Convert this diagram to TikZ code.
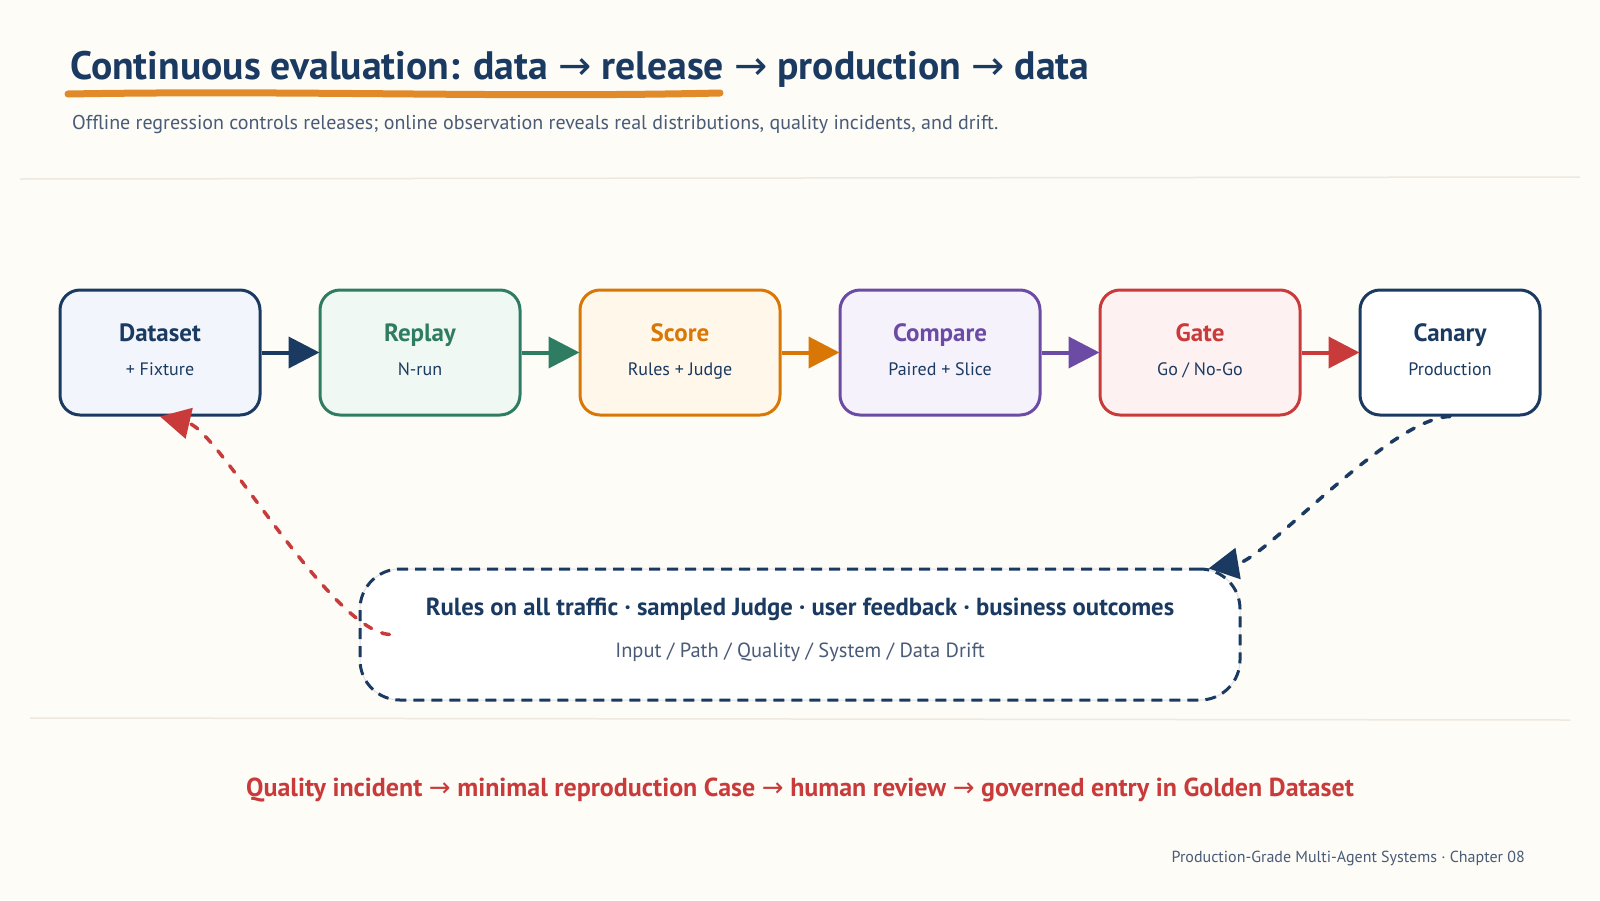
\documentclass[tikz,border=0pt]{standalone}
\usepackage{fontspec}
\setmainfont{PT Sans}
\newfontfamily\arrfont{DejaVu Sans}
\usetikzlibrary{arrows.meta,calc}
\definecolor{bg}{HTML}{FDFCF7}
\definecolor{navy}{HTML}{1B3A61}
\definecolor{grn}{HTML}{2E7D62}
\definecolor{org}{HTML}{D97706}
\definecolor{uline}{HTML}{E08A2A}
\definecolor{pur}{HTML}{6B4BA3}
\definecolor{rd}{HTML}{C93B3B}
\definecolor{gtxt}{HTML}{4A5B78}
\definecolor{sep}{HTML}{EEE8DE}
\definecolor{fds}{HTML}{F2F6FC}
\definecolor{frp}{HTML}{F0F8F4}
\definecolor{fsc}{HTML}{FFF7E9}
\definecolor{fcm}{HTML}{F5F2FC}
\definecolor{fgt}{HTML}{FDF1F1}
\newcommand{\arr}{{\arrfont\mdseries →}}
\tikzset{
  stagebox/.style={rectangle, rounded corners=20pt, line width=3pt, minimum height=125pt, inner sep=0pt},
  btitle/.style={anchor=base, inner sep=0pt, font=\fontsize{25}{29}\selectfont\bfseries},
  bsub/.style={anchor=base, inner sep=0pt, text=navy, font=\fontsize{18}{21}\selectfont},
  flow/.style={line width=4pt, -{Triangle[length=31pt,width=31pt]}, shorten >=-1pt},
  loopline/.style={line width=3.5pt, line cap=round, dash pattern=on 8pt off 11pt, -{Triangle[length=30pt,width=31pt]}},
}
\begin{document}
\begin{tikzpicture}[x=1pt,y=-1pt]
\fill[bg] (0,0) rectangle (1600,900);
\useasboundingbox (0,0) rectangle (1600,900);
% separators
\draw[sep, line width=1.5pt] (20,179) -- (1580,177);
\draw[sep, line width=1.5pt] (30,718) -- (1570,720);
% title
\draw[uline, line width=7pt, line cap=round] (68,94) .. controls (300,90) and (500,98) .. (720,93);
\node[anchor=base west, inner sep=0pt, text=navy, font=\fontsize{39.7}{46}\selectfont\bfseries] (title) at (70,79)
  {Continuous evaluation: data \arr{} release \arr{} production \arr{} data};
\node[anchor=base west, inner sep=0pt, text=gtxt, font=\fontsize{20}{24}\selectfont] (subtitle) at (72,129)
  {Offline regression controls releases; online observation reveals real distributions, quality incidents, and drift.};
% stage boxes
\node[stagebox, draw=navy, fill=fds, minimum width=200pt] (ds) at (160,352.5) {};
\node[stagebox, draw=grn, fill=frp, minimum width=200pt] (rp) at (420,352.5) {};
\node[stagebox, draw=org, fill=fsc, minimum width=200pt] (sc) at (680,352.5) {};
\node[stagebox, draw=pur, fill=fcm, minimum width=200pt] (cm) at (940,352.5) {};
\node[stagebox, draw=rd, fill=fgt, minimum width=200pt] (gt) at (1200,352.5) {};
\node[stagebox, draw=navy, fill=white, minimum width=180pt] (cn) at (1450,352.5) {};
\node[btitle, text=navy] (dsT) at (160,341) {Dataset};
\node[bsub] (dsS) at (160,375) {+ Fixture};
\node[btitle, text=grn] (rpT) at (420,341) {Replay};
\node[bsub] (rpS) at (420,375) {N-run};
\node[btitle, text=org] (scT) at (680,341) {Score};
\node[bsub] (scS) at (680,375) {Rules + Judge};
\node[btitle, text=pur] (cmT) at (940,341) {Compare};
\node[bsub] (cmS) at (940,375) {Paired + Slice};
\node[btitle, text=rd] (gtT) at (1200,341) {Gate};
\node[bsub] (gtS) at (1200,375) {Go / No-Go};
\node[btitle, text=navy] (cnT) at (1450,341) {Canary};
\node[bsub] (cnS) at (1450,375) {Production};
% flow arrows
\draw[flow, navy] (ds.east) -- (rp.west);
\draw[flow, grn] (rp.east) -- (sc.west);
\draw[flow, org] (sc.east) -- (cm.west);
\draw[flow, pur] (cm.east) -- (gt.west);
\draw[flow, rd] (gt.east) -- (cn.west);
% observation box
\node[rectangle, rounded corners=40pt, minimum width=880pt, minimum height=131pt, fill=white, draw=gray!25, line width=1pt,
  postaction={draw=navy, line width=3pt, dash pattern=on 11pt off 7pt}] (obs) at (800,634.5) {};
\node[anchor=base, inner sep=0pt, text=navy, font=\fontsize{24.7}{29}\selectfont\bfseries] (obsT) at (800,615)
  {Rules on all traffic · sampled Judge · user feedback · business outcomes};
\node[anchor=base, inner sep=0pt, text=gtxt, font=\fontsize{20.5}{24}\selectfont] (obsS) at (800,657)
  {Input / Path / Quality / System / Data Drift};
% loops
\coordinate (rs) at ($(obs.west)+(30,0)$);
\coordinate (ne) at ($(obs.north east)+(-32,0)$);
\draw[loopline, navy] (cn.south) .. controls (1390,418) and (1265,559) .. (ne);
\draw[loopline, rd] (rs) .. controls (330,630) and (218,430) .. (ds.south);
% bottom text
\node[anchor=base, inner sep=0pt, text=rd, font=\fontsize{26}{30}\selectfont\bfseries] (note) at (800,796)
  {Quality incident \arr{} minimal reproduction Case \arr{} human review \arr{} governed entry in Golden Dataset};
\node[anchor=base east, inner sep=0pt, text=gtxt, font=\fontsize{16}{19}\selectfont] (foot) at (1525,862)
  {Production-Grade Multi-Agent Systems · Chapter 08};
\end{tikzpicture}
\end{document}
